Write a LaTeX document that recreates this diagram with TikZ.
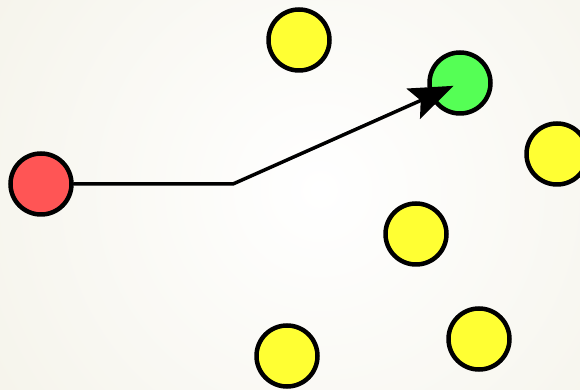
\documentclass[tikz,border=0pt]{standalone}
\usetikzlibrary{arrows.meta}

\definecolor{bgbeige}{RGB}{236,233,216}
\definecolor{redfill}{RGB}{255,85,85}
\definecolor{greenfill}{RGB}{85,255,85}
\definecolor{yellowfill}{RGB}{255,255,51}

\begin{document}
\begin{tikzpicture}[line cap=round,line join=miter,x=1pt,y=1pt,
  dot/.style={circle,draw=black,line width=4.5pt,minimum size=61pt,inner sep=0pt},
  move/.style={line width=3.5pt,-{Stealth[length=44pt,width=33pt,inset=8pt]}}]
\useasboundingbox (0,0) rectangle (580,390);
\clip (0,0) rectangle (580,390);

% background
\shade[inner color=white,outer color=bgbeige] (320,200) circle (760);

\coordinate (B) at (233,206);

\node[dot,fill=redfill] (R) at (41,206) {};
\node[dot,fill=greenfill] (G) at (460,307) {};

\node[dot,fill=yellowfill] (Y1) at (299,350) {};
\node[dot,fill=yellowfill] (Y2) at (557,236) {};
\node[dot,fill=yellowfill] (Y3) at (416,156) {};
\node[dot,fill=yellowfill] (Y4) at (287,34) {};
\node[dot,fill=yellowfill] (Y5) at (479,51) {};

\draw[move,shorten >=7pt] (R) -- (B) -- (G.center);
\end{tikzpicture}
\end{document}
